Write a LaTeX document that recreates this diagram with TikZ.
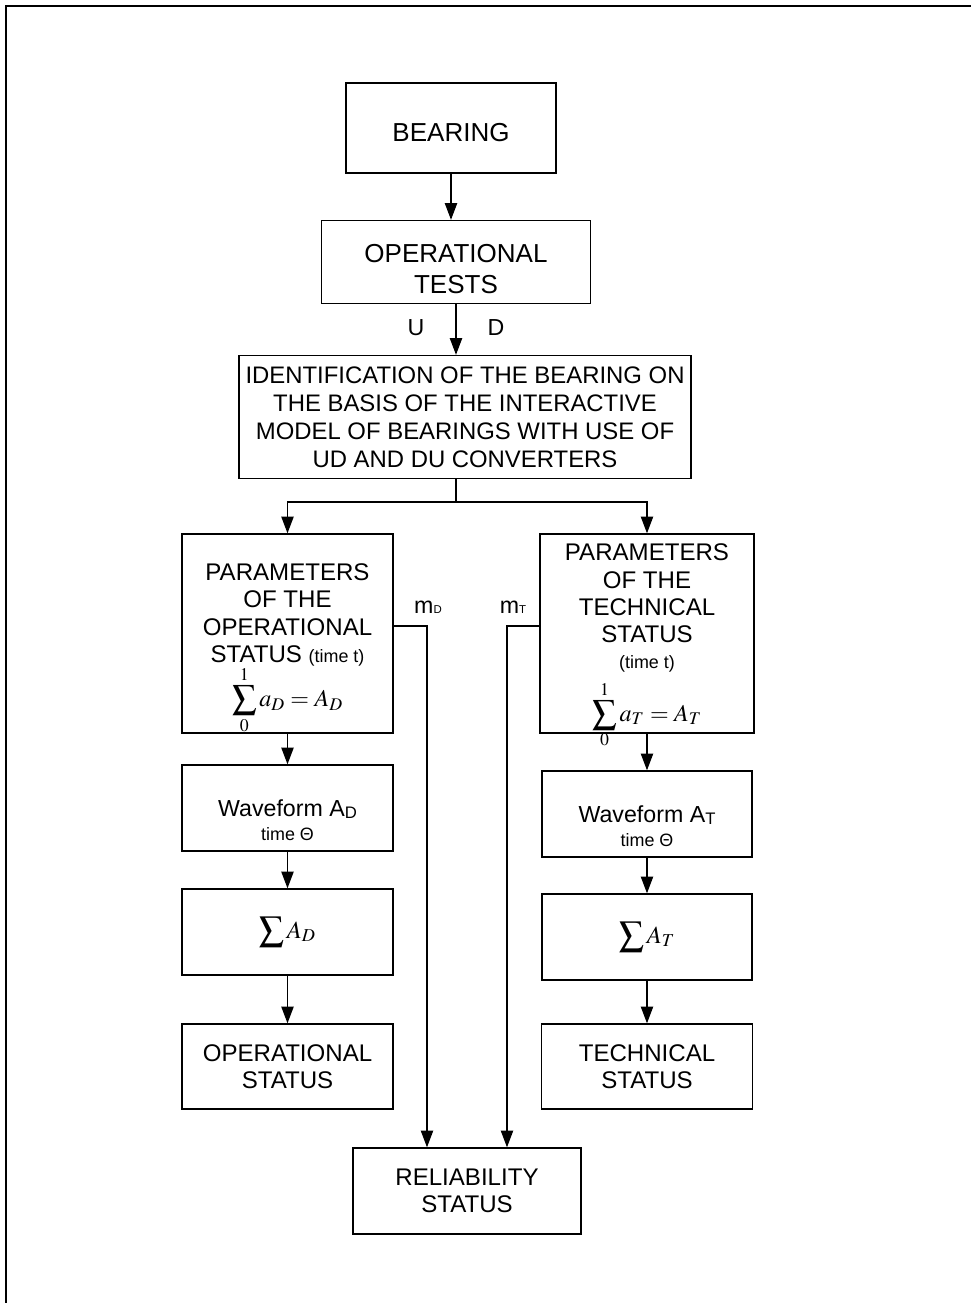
\documentclass[tikz,border=0pt]{standalone}
\usepackage{mathptmx}
\usepackage[no-math]{fontspec}
\setmainfont{Liberation Sans}
\usepackage{tikz}
\usetikzlibrary{arrows.meta, positioning}
\tikzset{blok/.style={draw=black, line width=0.8pt, align=center, inner sep=1pt, font=\fontsize{13.7}{15.6}\selectfont},
    bigblok/.style={blok, font=\fontsize{14.8}{16.6}\selectfont},
    parblok/.style={blok, inner ysep=-12pt},
    dims/.style 2 args={minimum width=#1*0.02cm, minimum height=#2*0.02cm},
    lbl/.style={inner sep=0pt, font=\fontsize{13.2}{15}\selectfont},
    arr/.style={line width=0.7pt, -{Triangle[length=9.5pt,width=7pt]}},
    ln/.style={line width=0.7pt}}
\newcommand{\smalltxt}[1]{{\fontsize{10.2}{12}\selectfont #1}}
\newcommand{\subltr}[1]{\raisebox{-1.2pt}{\fontsize{9.5}{10}\selectfont #1}}
\newcommand{\tinyltr}[1]{{\fontsize{6.5}{7}\selectfont #1}}
\newcommand{\topgap}[1]{\rule{0pt}{#1}}

\begin{document}
\begin{tikzpicture}[x=0.02cm, y=-0.02cm]
                \useasboundingbox (0,0) rectangle (971,1303);
                \draw[line width=1.2pt] (6,1303) -- (6,6) -- (971,6);

                % top of the chain
                \node[bigblok, dims={210}{90}] (bearing) at (451,128) {\topgap{16pt}BEARING};
                \node[bigblok, dims={269}{83}] (tests) at (456,262) {\topgap{18pt}OPERATIONAL\\[1pt]TESTS};
                \node[blok, dims={452}{123}, font=\fontsize{13.6}{15.9}\selectfont] (ident) at (465,417)
                    {IDENTIFICATION OF THE BEARING ON\\THE BASIS OF THE INTERACTIVE\\MODEL OF BEARINGS WITH USE OF\\UD AND DU CONVERTERS};
                \node[lbl] (lu) at (416,328) {U};
                \node[lbl] (ld) at (496,328) {D};

                % left branch
                \node[parblok, dims={211}{199}] (parD) at (287.5,633.5)
                    {\topgap{27pt}PARAMETERS\\OF THE\\OPERATIONAL\\STATUS \smalltxt{(time t)}\\[-1pt]
                     $\displaystyle\sum_{0}^{1} a_D = A_D$};
                \node[blok, dims={211}{86}] (waveD) at (287.5,808)
                    {{\fontsize{13.2}{15}\selectfont\topgap{23pt}Waveform A\subltr{D}}\\[-2pt]\smalltxt{time Θ}};
                \node[blok, dims={211}{86}] (sumD) at (287.5,932) {\fontsize{14}{16}\selectfont$\displaystyle\sum\nolimits A_D$};
                \node[blok, dims={211}{85}] (opD) at (287.5,1066.5) {OPERATIONAL\\STATUS};

                % right branch
                \node[parblok, dims={214}{199}] (parT) at (647,633.5)
                    {\topgap{24pt}PARAMETERS\\OF THE\\TECHNICAL\\STATUS\\[-1pt]\smalltxt{(time t)}\\[4pt]
                     $\displaystyle\sum_{0}^{1} a_T = A_T$};
                \node[blok, dims={210}{86}] (waveT) at (647,814)
                    {{\fontsize{13.2}{15}\selectfont\topgap{23pt}Waveform A\subltr{T}}\\[-2pt]\smalltxt{time Θ}};
                \node[blok, dims={210}{86}] (sumT) at (647,937) {\fontsize{14}{16}\selectfont$\displaystyle\sum\nolimits A_T$};
                \node[blok, dims={211}{85}] (opT) at (647,1066.5) {TECHNICAL\\STATUS};

                \node[blok, dims={228}{86}] (rel) at (467,1191) {RELIABILITY\\STATUS};
                \node[lbl] (mD) at (428,607) {m\tinyltr{D}};
                \node[lbl] (mT) at (513,607) {m\tinyltr{T}};

                \coordinate (split) at (456,502);

                \draw[arr] (bearing.south) -- (bearing.south |- tests.north);
                \draw[arr] (tests.south) -- (tests.south |- ident.north);
                \draw[ln] (tests.south |- ident.south) -- (split);
                \draw[arr] (split) -| (parD.north);
                \draw[arr] (split) -| (parT.north);

                \draw[arr] (parD) -- (waveD);
                \draw[arr] (waveD) -- (sumD);
                \draw[arr] (sumD) -- (opD);
                \draw[arr] (parT) -- (waveT);
                \draw[arr] (waveT) -- (sumT);
                \draw[arr] (sumT) -- (opT);

                \draw[arr] (parD.east |- 0,626) -| (rel.north -| 427,0);
                \draw[arr] (parT.west |- 0,626) -| (rel.north -| 507,0);
\end{tikzpicture}
\end{document}
